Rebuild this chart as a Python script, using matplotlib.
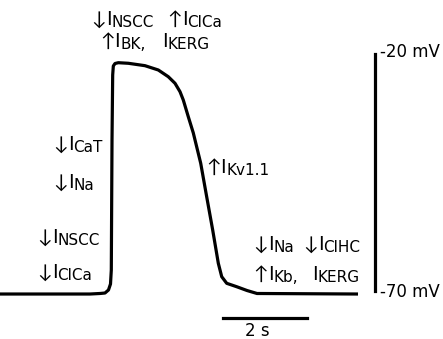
import numpy as np
import matplotlib
matplotlib.use("Agg")
import matplotlib.pyplot as plt

# action potential trace (time in s, membrane potential in mV)
time_s = [0.000, 2.143, 2.381, 2.500, 2.583, 2.631, 2.650, 2.667, 2.683, 2.698,
          2.738, 2.817, 3.055, 3.452, 3.769, 4.007, 4.167, 4.286, 4.364, 4.483,
          4.602, 4.779, 4.921, 5.064, 5.198, 5.279, 5.398, 5.636, 5.881, 6.119,
          8.524]
vm_mv = [-70.42, -70.42, -70.31, -70.21, -69.58, -68.33, -65.42, -38.33, -24.79, -22.92,
         -22.40, -22.23, -22.35, -22.85, -23.75, -25.15, -26.52, -28.27, -30.00, -33.48,
         -36.85, -43.19, -50.15, -57.08, -64.02, -66.81, -68.19, -68.90, -69.69, -70.31,
         -70.42]

# scale bars
v_bar = [-20, -70]
v_bar_labels = ["-20 mV", "-70 mV"]
t_bar = 2.0
t_bar_label = "2 s"

# current annotations: (arrow, subscript name, x px, baseline y px)
labels = [
    ("\u2193", "NSCC", 91, 25),
    ("\u2191", "ClCa", 167, 25),
    ("\u2191", "BK,", 100, 47),
    ("", "KERG", 162, 47),
    ("\u2193", "CaT", 53, 150),
    ("\u2193", "Na", 53, 188),
    ("\u2193", "NSCC", 37, 243),
    ("\u2193", "ClCa", 37, 278),
    ("\u2191", "Kv1.1", 206, 173),
    ("\u2193", "Na", 253, 250),
    ("\u2193", "ClHC", 303, 250),
    ("\u2191", "Kb,", 253, 280),
    ("", "KERG", 312, 280),
]

W, H = 443, 339
px_per_s = 42.0
px_per_mv = 4.8
top_mv_px = 52  # pixel row of -20 mV

fig = plt.figure(figsize=(W / 100, H / 100), dpi=100)
ax = fig.add_axes([0, 0, 1, 1])
ax.set_xlim(0, W / px_per_s)
ax.set_ylim(-20 - (H - top_mv_px) / px_per_mv, -20 + top_mv_px / px_per_mv)
ax.axis("off")

ax.plot(time_s, vm_mv, color="black", lw=2.3, solid_joinstyle="round",
        solid_capstyle="butt")

# vertical scale bar
xb = 375 / px_per_s
ax.plot([xb, xb], [v_bar[0] - 0.5, v_bar[1] + 0.3], color="black", lw=2.3)
for v, lab in zip(v_bar, v_bar_labels):
    ax.text(xb + 0.13, v, lab, ha="left", va="center", fontsize=12)

# horizontal scale bar
t0 = 223 / px_per_s
yb = -20 - (318 - top_mv_px) / px_per_mv
ax.plot([t0, t0 + t_bar], [yb, yb], color="black", lw=2.3)
ax.text(257 / px_per_s, -20 - (331 - top_mv_px) / px_per_mv, t_bar_label,
        ha="center", va="center", fontsize=12)

renderer = fig.canvas.get_renderer()
for arrow, name, x, y in labels:
    x0 = x
    if arrow:
        # Lato's arrows are tall and thin like the original ones
        ta = fig.text(x0 / W, 1 - y / H, arrow, ha="left", va="baseline",
                      fontsize=14, family=["Lato", "DejaVu Sans"])
        x0 = ta.get_window_extent(renderer).x1
    ti = fig.text(x0 / W, 1 - y / H, "I", ha="left", va="baseline", fontsize=14)
    x1 = ti.get_window_extent(renderer).x1
    fig.text(x1 / W, 1 - (y + 2) / H, name, ha="left", va="baseline", fontsize=11)

fig.savefig("out.png", dpi=100)
